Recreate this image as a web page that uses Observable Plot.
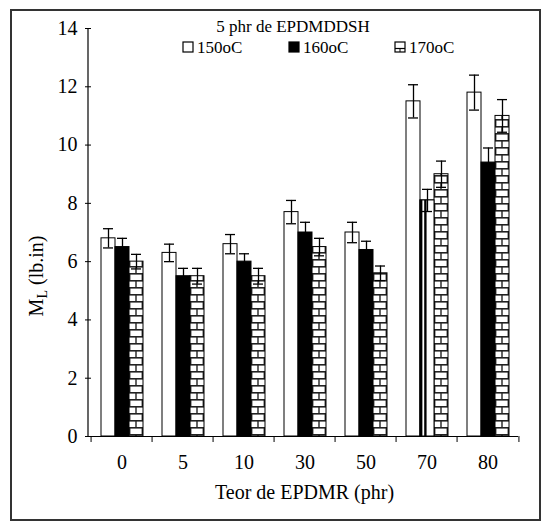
<!DOCTYPE html>
<html><head><meta charset="utf-8">
<script src="https://cdn.jsdelivr.net/npm/d3@7"></script>
<script src="https://cdn.jsdelivr.net/npm/@observablehq/plot@0.6"></script>
<style>
body{margin:0;background:#fff;}
#chart{width:551px;height:532px;}
#chart svg text{font-family:'Liberation Serif','Times New Roman',serif !important;}
</style></head><body><div id="chart"></div>
<script>
const categories = ["0","5","10","30","50","70","80"];
const series = ["150oC","160oC","170oC"];
const values150 = [6.8,6.3,6.6,7.7,7.0,11.5,11.8];
const values160 = [6.5,5.5,6.0,7.0,6.4,8.1,9.4];
const values170 = [6.0,5.5,5.5,6.5,5.6,9.0,11.0];
const err150 = [0.33,0.3,0.33,0.4,0.35,0.57,0.6];
const err160 = [0.3,0.27,0.27,0.35,0.3,0.38,0.5];
const err170 = [0.25,0.27,0.27,0.3,0.25,0.45,0.56];
const yTicks = [0,2,4,6,8,10,12,14];
const legendTitle = "5 phr de EPDMDDSH";
const xTitle = "Teor de EPDMR (phr)";
const yTitleMain = "M", yTitleSub = "L", yTitleRest = " (lb.in)";

const table = [];
[values150, values160, values170].forEach((vals, si) => {
  const errs = [err150, err160, err170][si];
  categories.forEach((c, ci) => table.push({cat: c, series: series[si], value: vals[ci], err: errs[ci]}));
});

const font = "'Liberation Serif', 'Times New Roman', serif";
const W = 551, H = 532, ML = 88, MR = 30, MT = 28, MB = 96;
const halfBand = (W - ML - MR) / categories.length / 2;

const plot = Plot.plot({
  width: W, height: H, marginLeft: ML, marginRight: MR, marginTop: MT, marginBottom: MB,
  style: {fontFamily: font, fontSize: "20px", color: "black", background: "white", overflow: "visible"},
  fx: {domain: categories, padding: 0, label: null},
  x: {domain: series, paddingInner: 0, paddingOuter: 0.66, axis: null},
  y: {domain: [0, 14], ticks: yTicks, tickSize: 6, tickPadding: 8, label: null},
  color: {domain: series, range: ["white", "black", "url(#brick)"]},
  marks: [
    Plot.barY(table, {fx: "cat", x: "series", y: "value", fill: "series", stroke: "black", strokeWidth: 1}),
    Plot.barY(table.filter(d => d.cat === "70" && d.series === "160oC"),
      {fx: "cat", x: "series", y: "value", fill: "url(#stripes)", stroke: "black", strokeWidth: 1}),
    Plot.ruleX(table, {fx: "cat", x: "series", y1: d => d.value - d.err, y2: d => d.value + d.err, stroke: "black", strokeWidth: 1.3}),
    Plot.tickY(table, {fx: "cat", x: "series", y: d => d.value + d.err, insetLeft: 2, insetRight: 2, stroke: "black", strokeWidth: 1.3}),
    Plot.tickY(table, {fx: "cat", x: "series", y: d => d.value - d.err, insetLeft: 2, insetRight: 2, stroke: "black", strokeWidth: 1.3}),
    Plot.ruleY([0], {stroke: "black", strokeWidth: 1.2}),
    Plot.axisFx({anchor: "bottom", tickSize: 0, tickPadding: 18, label: null}),
    Plot.axisFx({anchor: "bottom", tickSize: 6, tickFormat: () => "", dx: -halfBand, label: null}),
    Plot.axisFx({anchor: "bottom", ticks: [categories[categories.length - 1]], tickSize: 6, tickFormat: () => "", dx: halfBand, label: null})
  ]
});

document.getElementById("chart").appendChild(plot);
const svg = d3.select(plot);

// y axis line through the library's y scale
const yScale = plot.scale("y");
svg.append("line").attr("x1", ML).attr("x2", ML)
  .attr("y1", yScale.apply(yTicks[0])).attr("y2", yScale.apply(yTicks[yTicks.length - 1]))
  .attr("stroke", "black").attr("stroke-width", 1.2);

// patterns
const defs = svg.insert("defs", ":first-child");
const brickRect = plot.querySelector('rect[fill="url(#brick)"]');
const bx = brickRect ? +brickRect.getAttribute("x") : 0;
const bw = brickRect ? +brickRect.getAttribute("width") : 14;
const brick = defs.append("pattern").attr("id", "brick").attr("patternUnits", "userSpaceOnUse")
  .attr("x", bx).attr("y", 0).attr("width", bw).attr("height", 14);
brick.append("rect").attr("width", bw).attr("height", 14).attr("fill", "white");
brick.append("line").attr("x1", 0).attr("x2", bw).attr("y1", 0.8).attr("y2", 0.8).attr("stroke", "#222").attr("stroke-width", 1.6);
brick.append("line").attr("x1", 0).attr("x2", bw).attr("y1", 7.8).attr("y2", 7.8).attr("stroke", "#222").attr("stroke-width", 1.6);
brick.append("line").attr("x1", bw / 2).attr("x2", bw / 2).attr("y1", 0).attr("y2", 7.8).attr("stroke", "#222").attr("stroke-width", 1.4);
brick.append("line").attr("x1", 0.7).attr("x2", 0.7).attr("y1", 7.8).attr("y2", 14).attr("stroke", "#222").attr("stroke-width", 1.4);
brick.append("line").attr("x1", bw - 0.7).attr("x2", bw - 0.7).attr("y1", 7.8).attr("y2", 14).attr("stroke", "#222").attr("stroke-width", 1.4);

const stripes = defs.append("pattern").attr("id", "stripes").attr("patternUnits", "objectBoundingBox")
  .attr("patternContentUnits", "objectBoundingBox").attr("width", 1).attr("height", 1);
stripes.append("rect").attr("width", 1).attr("height", 1).attr("fill", "white");
stripes.append("rect").attr("x", 0).attr("width", 0.17).attr("height", 1).attr("fill", "black");
stripes.append("rect").attr("x", 0.3).attr("width", 0.17).attr("height", 1).attr("fill", "black");

// outer frame
svg.append("rect").attr("x", 11).attr("y", 10).attr("width", 529).attr("height", 510)
  .attr("fill", "none").attr("stroke", "#333").attr("stroke-width", 2);

// x title
svg.append("text").attr("x", (ML + W - MR) / 2).attr("y", 499).attr("text-anchor", "middle")
  .style("font-size", "20px").attr("fill", "black").text(xTitle);

// y title
const yt = svg.append("text").attr("transform", "translate(43,276) rotate(-90)").attr("text-anchor", "middle")
  .style("font-size", "20px").attr("fill", "black");
yt.append("tspan").text(yTitleMain);
yt.append("tspan").style("font-size", "14px").attr("dy", 4).text(yTitleSub);
yt.append("tspan").attr("dy", -4).text(yTitleRest);

// legend
const lg = svg.append("g").attr("fill", "black");
lg.append("text").attr("x", 293).attr("y", 32).attr("text-anchor", "middle").style("font-size", "17px").text(legendTitle);
const items = [{x: 183, s: series[0]}, {x: 289, s: series[1]}, {x: 395, s: series[2]}];
items.forEach((it, i) => {
  const sy = 42;
  lg.append("rect").attr("x", it.x).attr("y", sy).attr("width", 10).attr("height", 10)
    .attr("fill", i === 1 ? "black" : "white").attr("stroke", "black").attr("stroke-width", 1.2);
  if (i === 2) {
    lg.append("line").attr("x1", it.x).attr("x2", it.x + 10).attr("y1", sy + 6.5).attr("y2", sy + 6.5).attr("stroke", "black").attr("stroke-width", 1.2);
    lg.append("line").attr("x1", it.x + 5).attr("x2", it.x + 5).attr("y1", sy + 6.5).attr("y2", sy + 10).attr("stroke", "black").attr("stroke-width", 1);
  }
  lg.append("text").attr("x", it.x + 14).attr("y", 53).attr("text-anchor", "start").style("font-size", "17px").text(it.s);
});
</script>
</body></html>
